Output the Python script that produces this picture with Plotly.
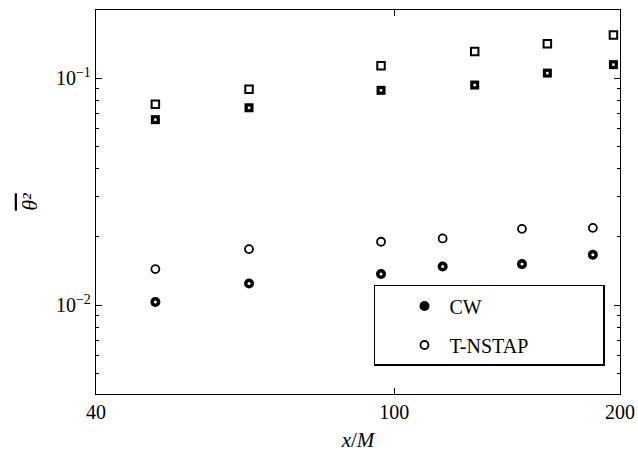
import plotly.graph_objects as go

# Squares (no legend entries in the original)
sq_x_open = [48, 64, 96, 128, 160, 196]
sq_y_open = [0.0766, 0.0892, 0.1132, 0.1310, 0.1416, 0.1550]
sq_x_fill = [48, 64, 96, 128, 160, 196]
sq_y_fill = [0.0656, 0.0740, 0.0883, 0.0932, 0.1052, 0.1146]

# Circles
cw_x = [48, 64, 96, 116, 148, 184]
cw_y = [0.01031, 0.01245, 0.01369, 0.01478, 0.01515, 0.01665]
tn_x = [48, 64, 96, 116, 148, 184]
tn_y = [0.01440, 0.01764, 0.01900, 0.01965, 0.02166, 0.02188]

x_ticks = [40, 100, 200]
x_ticklabels = ["40", "100", "200"]
y_ticks = [0.01, 0.1]
y_ticklabels = ["10<sup>\u22122</sup>", "10<sup>\u22121</sup>"]
y_minor = [0.005, 0.006, 0.007, 0.008, 0.009,
           0.02, 0.03, 0.04, 0.05, 0.06, 0.07, 0.08, 0.09, 0.2]

FONT = "Liberation Serif"
PAD = "\u00a0" * 14

fig = go.Figure()

fig.add_trace(go.Scatter(x=sq_x_open, y=sq_y_open, mode="markers", showlegend=False,
                         marker=dict(symbol="square", size=7.5, color="white",
                                     line=dict(color="black", width=2))))
fig.add_trace(go.Scatter(x=sq_x_fill, y=sq_y_fill, mode="markers", showlegend=False,
                         marker=dict(symbol="square", size=9, color="black",
                                     line=dict(width=0))))
fig.add_trace(go.Scatter(x=sq_x_fill, y=sq_y_fill, mode="markers", showlegend=False,
                         marker=dict(symbol="square", size=2.5, color="white",
                                     line=dict(width=0))))

fig.add_trace(go.Scatter(x=cw_x, y=cw_y, mode="markers", name="CW",
                         legendgroup="a",
                         marker=dict(symbol="circle", size=10, color="black",
                                     line=dict(width=0))))
fig.add_trace(go.Scatter(x=cw_x, y=cw_y, mode="markers", showlegend=False,
                         marker=dict(symbol="circle", size=3, color="white",
                                     line=dict(width=0))))
fig.add_trace(go.Scatter(x=tn_x, y=tn_y, mode="markers", name="T-NSTAP" + PAD,
                         legendgroup="b",
                         marker=dict(symbol="circle", size=8, color="white",
                                     line=dict(color="black", width=1.8))))

axis_common = dict(type="log", showgrid=False, zeroline=False, showline=True,
                   linecolor="black", linewidth=1.3, mirror="ticks",
                   ticks="inside", tickcolor="black", tickwidth=1,
                   automargin=False,
                   tickfont=dict(family=FONT, size=20, color="black"))

fig.update_xaxes(**axis_common, range=[1.60206, 2.30103],
                 tickvals=x_ticks, ticktext=x_ticklabels, ticklen=6,
                 title=dict(text="<i>x</i>/<i>M</i>", standoff=10,
                            font=dict(family=FONT, size=21, color="black")))
fig.update_yaxes(**axis_common, range=[-2.392, -0.700],
                 tickvals=y_ticks, ticktext=y_ticklabels, ticklen=6,
                 minor=dict(tickvals=y_minor, ticks="inside", ticklen=3,
                            tickcolor="black", tickwidth=1),
                 title=dict(text="<span style='text-decoration:overline'>\u03b8\u00b2</span>",
                            standoff=12,
                            font=dict(family=FONT, size=22, color="black",
                                      style="italic")))

fig.update_layout(
    width=638, height=454,
    margin=dict(l=96, r=18, t=10, b=60),
    paper_bgcolor="white", plot_bgcolor="white",
    font=dict(family=FONT, size=20, color="black"),
    showlegend=True,
    legend=dict(x=0.5305, y=0.2839, xanchor="left", yanchor="top",
                bgcolor="white", bordercolor="black", borderwidth=1.5,
                font=dict(family=FONT, size=20, color="black"),
                tracegroupgap=10, indentation=24, itemwidth=40),
)

fig.write_html("out.html")
